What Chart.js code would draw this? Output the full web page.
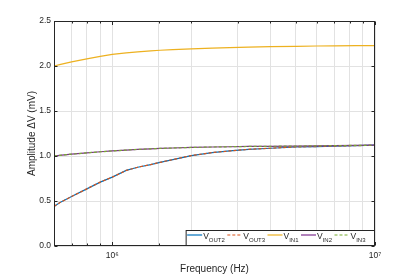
<!DOCTYPE html>
<html>
<head>
<meta charset="utf-8">
<script src="https://cdn.jsdelivr.net/npm/chart.js@4"></script>
<style>
  html, body { margin: 0; padding: 0; background: #fff; }
  canvas { display: block; }
</style>
</head>
<body>
<canvas id="amp" width="415" height="277"></canvas>
<script>
// frequency sweep (Hz) and amplitudes (mV)
const freq  = [6e5, 6.3e5, 7e5, 8e5, 9e5, 1e6, 1.13e6, 1.25e6, 1.4e6, 1.52e6, 1.7e6, 2e6, 2.4e6, 2.8e6, 3.3e6, 4e6, 5e6, 6e6, 7e6, 8.5e6, 1e7];
const vout2 = [0.44, 0.48, 0.55, 0.635, 0.71, 0.765, 0.84, 0.875, 0.905, 0.93, 0.96, 1.005, 1.038, 1.056, 1.074, 1.086, 1.10, 1.105, 1.11, 1.115, 1.12];
const vout3 = [0.44, 0.48, 0.55, 0.635, 0.71, 0.765, 0.84, 0.875, 0.905, 0.93, 0.96, 1.005, 1.038, 1.056, 1.074, 1.086, 1.10, 1.105, 1.11, 1.115, 1.12];
const vin1  = [2.0, 2.015, 2.045, 2.08, 2.107, 2.13, 2.145, 2.157, 2.168, 2.175, 2.182, 2.19, 2.198, 2.205, 2.21, 2.215, 2.219, 2.222, 2.224, 2.226, 2.227];
const vin2  = [1.0, 1.008, 1.02, 1.035, 1.047, 1.056, 1.066, 1.073, 1.08, 1.084, 1.089, 1.095, 1.1, 1.103, 1.106, 1.108, 1.11, 1.113, 1.115, 1.118, 1.12];
const vin3  = [1.0, 1.008, 1.02, 1.035, 1.047, 1.056, 1.066, 1.073, 1.08, 1.084, 1.089, 1.095, 1.1, 1.103, 1.106, 1.108, 1.11, 1.113, 1.115, 1.118, 1.12];

const yTicks = [0, 0.5, 1, 1.5, 2, 2.5];
const legendNames = [["V", "OUT2"], ["V", "OUT3"], ["V", "IN1"], ["V", "IN2"], ["V", "IN3"]];

const FONT = "'Liberation Sans', Arial, sans-serif";
const INK = "#262626";
const C = { OUT2: "#0072BD", OUT3: "#D95319", IN1: "#EDB120", IN2: "#7E2F8E", IN3: "#77AC30" };

const pts = ys => freq.map((f, i) => ({ x: f, y: ys[i] }));
const line = (data, color, order, dash) => ({
  data: pts(data), borderColor: color, backgroundColor: color, borderWidth: 1.2,
  pointRadius: 0, tension: 0, order, borderDash: dash || [], fill: false,
});
const isDecade = v => Math.abs(Math.log10(v) - Math.round(Math.log10(v))) < 1e-9;
const sup = { "0":"⁰","1":"¹","2":"²","3":"³","4":"⁴","5":"⁵","6":"⁶","7":"⁷","8":"⁸","9":"⁹" };

// box round the axes with inward tick marks (matlab look)
const frame = {
  id: "frame",
  afterDatasetsDraw(chart) {
    const { ctx, chartArea: a, scales: { x, y } } = chart;
    const L = Math.round(a.left) + 0.5, R = Math.round(a.right) - 0.5;
    const T = Math.round(a.top) + 0.5, B = Math.round(a.bottom) - 0.5;
    ctx.save();
    ctx.strokeStyle = INK; ctx.lineWidth = 1;
    ctx.strokeRect(L, T, R - L, B - T);
    ctx.beginPath();
    yTicks.forEach(v => {
      const py = Math.round(y.getPixelForValue(v)) + 0.5;
      ctx.moveTo(L, py); ctx.lineTo(L + 3, py);
      ctx.moveTo(R, py); ctx.lineTo(R - 3, py);
    });
    x.ticks.forEach(t => {
      const px = Math.round(x.getPixelForValue(t.value)) + 0.5;
      const len = isDecade(t.value) ? 3.5 : 2;
      ctx.moveTo(px, B); ctx.lineTo(px, B - len);
      ctx.moveTo(px, T); ctx.lineTo(px, T + len);
    });
    ctx.stroke();
    ctx.restore();
  }
};

// legend with subscripts, tucked in the lower right corner
const subLegend = {
  id: "subLegend",
  afterDraw(chart) {
    const { ctx, chartArea: a } = chart;
    const ds = chart.data.datasets;
    const big = "8.5px " + FONT, small = "6px " + FONT;
    const icon = 15, pad = 1, after = 2.5, rightPad = 9;
    ctx.save();
    const widths = legendNames.map(([m, s]) => {
      ctx.font = big; const w1 = ctx.measureText(m).width;
      ctx.font = small; const w2 = ctx.measureText(s).width;
      return { w1, w2 };
    });
    let total = 1;
    widths.forEach((w, i) => { total += icon + pad + w.w1 + w.w2 + (i < widths.length - 1 ? after : 0); });
    total += rightPad;
    const right = Math.round(a.right) - 0.5, bottom = Math.round(a.bottom) - 0.5;
    const left = right - total, top = bottom - 15;
    ctx.fillStyle = "#fff";
    ctx.fillRect(left, top, total, 15);
    ctx.strokeStyle = INK; ctx.lineWidth = 1;
    ctx.strokeRect(left, top, total, 15);
    let cx = left + 1;
    legendNames.forEach(([m, s], i) => {
      const d = ds[i];
      ctx.beginPath();
      ctx.strokeStyle = d.borderColor; ctx.lineWidth = 1.2;
      ctx.setLineDash(d.borderDash);
      ctx.moveTo(cx, top + 4.5); ctx.lineTo(cx + icon, top + 4.5);
      ctx.stroke();
      ctx.setLineDash([]);
      cx += icon + pad;
      ctx.fillStyle = INK; ctx.textBaseline = "alphabetic"; ctx.textAlign = "left";
      ctx.font = big; ctx.fillText(m, cx, top + 8);
      cx += widths[i].w1;
      ctx.font = small; ctx.fillText(s, cx, top + 11.5);
      cx += widths[i].w2 + after;
    });
    ctx.restore();
  }
};

Chart.defaults.font.family = FONT;
Chart.defaults.color = INK;

new Chart(document.getElementById("amp"), {
  type: "line",
  data: {
    datasets: [
      line(vout2, C.OUT2, 5),
      line(vout3, C.OUT3, 4, [3, 2]),
      line(vin1, C.IN1, 3),
      line(vin2, C.IN2, 2),
      line(vin3, C.IN3, 1, [3, 2]),
    ]
  },
  options: {
    responsive: false, animation: false, events: [],
    layout: { padding: { left: 22, top: 21, right: 40, bottom: 0 } },
    plugins: { legend: { display: false }, tooltip: { enabled: false } },
    scales: {
      x: {
        type: "logarithmic", min: 6e5, max: 1e7,
        afterFit: s => { s.height = 31; },
        grid: { color: "#e2e2e2", drawTicks: false },
        border: { display: false },
        ticks: {
          autoSkip: false, maxRotation: 0, padding: 5, font: { size: 8.5 },
          callback: v => isDecade(v) ? "10" + String(Math.round(Math.log10(v))).split("").map(c => sup[c]).join("") : "",
        },
        title: { display: true, text: "Frequency (Hz)", font: { size: 10 }, padding: { top: 0, bottom: 2 } },
      },
      y: {
        min: 0, max: 2.5,
        afterFit: s => { s.width = 32; },
        afterBuildTicks: s => { s.ticks = yTicks.map(v => ({ value: v })); },
        grid: { color: "#e2e2e2", drawTicks: false },
        border: { display: false },
        ticks: { padding: 3, font: { size: 8.5 }, callback: v => v.toFixed(1) },
        title: { display: true, text: "Amplitude \u0394V (mV)", font: { size: 10 }, padding: { top: 4, bottom: 0 } },
      },
    },
  },
  plugins: [frame, subLegend],
});
</script>
</body>
</html>
